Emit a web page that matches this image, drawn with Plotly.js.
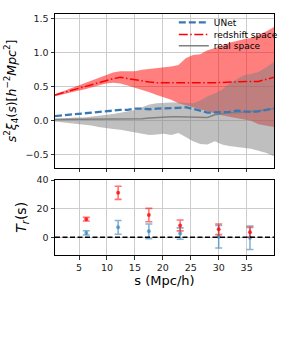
<!DOCTYPE html>
<html>
<head>
<meta charset="utf-8">
<script src="https://cdn.plot.ly/plotly-3.0.1.min.js"></script>
<style>html,body{margin:0;padding:0;background:#fff;}#chart{width:291px;height:349px;}</style>
</head>
<body>
<div id="chart"></div>
<script>
// separation grid (Mpc/h)
var s = [0.7, 2, 3.3, 4.6, 5.9, 7.2, 8.5, 9.8, 11.1, 12.4, 13.7, 15, 16.3, 17.6, 18.9, 20.2, 21.5, 22.8, 24.1, 25.4, 26.7, 28, 29.3, 30.6, 31.9, 33.2, 34.5, 35.8, 37.1, 38.4, 39.9];

// UNet
var unet = [0.07, 0.08, 0.09, 0.10, 0.11, 0.13, 0.14, 0.15, 0.16, 0.16, 0.16, 0.18, 0.18, 0.17, 0.18, 0.18, 0.19, 0.19, 0.20, 0.18, 0.15, 0.12, 0.12, 0.12, 0.13, 0.15, 0.14, 0.13, 0.14, 0.16, 0.18];

// redshift space mean and band
var zMean = [0.38, 0.41, 0.45, 0.48, 0.51, 0.54, 0.57, 0.60, 0.62, 0.64, 0.62, 0.60, 0.58, 0.57, 0.56, 0.56, 0.555, 0.555, 0.555, 0.55, 0.55, 0.555, 0.56, 0.565, 0.57, 0.58, 0.58, 0.58, 0.58, 0.61, 0.64];
var zUp   = [0.39, 0.43, 0.47, 0.51, 0.55, 0.59, 0.63, 0.67, 0.71, 0.73, 0.73, 0.73, 0.75, 0.76, 0.77, 0.78, 0.80, 0.82, 0.92, 0.97, 0.98, 1.04, 1.07, 1.10, 1.15, 1.18, 1.20, 1.22, 1.26, 1.31, 1.38];
var zLo   = [0.36, 0.39, 0.42, 0.44, 0.46, 0.49, 0.52, 0.55, 0.56, 0.55, 0.52, 0.49, 0.45, 0.42, 0.38, 0.35, 0.31, 0.26, 0.23, 0.20, 0.17, 0.13, 0.10, 0.08, 0.06, 0.04, 0.02, 0.00, -0.05, -0.07, -0.09];

// real space mean and band
var rMean = [0.02, 0.02, 0.03, 0.03, 0.03, 0.03, 0.03, 0.03, 0.02, 0.02, 0.02, 0.02, 0.03, 0.04, 0.05, 0.05, 0.06, 0.06, 0.06, 0.05, 0.05, 0.05, 0.09, 0.11, 0.12, 0.12, 0.13, 0.13, 0.14, 0.16, 0.18];
var rUp   = [0.03, 0.04, 0.04, 0.05, 0.05, 0.06, 0.07, 0.09, 0.10, 0.12, 0.14, 0.16, 0.20, 0.24, 0.26, 0.27, 0.27, 0.27, 0.26, 0.26, 0.30, 0.36, 0.40, 0.46, 0.55, 0.61, 0.67, 0.69, 0.72, 0.78, 0.87];
var rLo   = [-0.01, -0.02, -0.03, -0.04, -0.06, -0.07, -0.09, -0.11, -0.12, -0.13, -0.15, -0.16, -0.18, -0.21, -0.20, -0.19, -0.21, -0.18, -0.24, -0.30, -0.34, -0.35, -0.30, -0.35, -0.37, -0.38, -0.40, -0.41, -0.44, -0.47, -0.52];

// lower panel: T_r(s)
var sT = [6.3, 12.0, 17.5, 23.1, 30.0, 35.6];
var tRed = [12.6, 31.1, 15.5, 8.2, 5.5, 3.4];
var tRedErr = [1.3, 4.6, 4.7, 3.8, 3.7, 3.5];
var tBlue = [3.0, 6.9, 4.1, 2.5, 0.3, -0.4];
var tBlueErr = [1.5, 4.8, 5.1, 4.0, 7.9, 8.2];

var xTicks = [5, 10, 15, 20, 25, 30, 35];
var yTopTicks = [-0.5, 0, 0.5, 1.0, 1.5];
var yTopLabels = ['\u22120.5', '0.0', '0.5', '1.0', '1.5'];
var yBotTicks = [0, 20, 40];

var traces = [
  {x: s, y: zLo, xaxis: 'x2', yaxis: 'y2', mode: 'lines', line: {width: 0, color: 'rgba(0,0,0,0)'}, showlegend: false, hoverinfo: 'skip'},
  {x: s, y: zUp, xaxis: 'x2', yaxis: 'y2', mode: 'lines', line: {width: 0, color: 'rgba(0,0,0,0)'}, fill: 'tonexty', fillcolor: 'rgba(255,0,0,0.5)', showlegend: false, hoverinfo: 'skip'},
  {x: s, y: rLo, xaxis: 'x2', yaxis: 'y2', mode: 'lines', line: {width: 0, color: 'rgba(0,0,0,0)'}, showlegend: false, hoverinfo: 'skip'},
  {x: s, y: rUp, xaxis: 'x2', yaxis: 'y2', mode: 'lines', line: {width: 0, color: 'rgba(0,0,0,0)'}, fill: 'tonexty', fillcolor: 'rgba(128,128,128,0.5)', showlegend: false, hoverinfo: 'skip'},
  {x: s, y: rMean, xaxis: 'x2', yaxis: 'y2', mode: 'lines', name: 'real space', legend: 'legend3', line: {color: '#808080', width: 1.5}},
  {x: s, y: zMean, xaxis: 'x2', yaxis: 'y2', mode: 'lines', name: 'redshift space', legend: 'legend2', line: {color: '#ff0000', width: 1.5, dash: '9px,2.5px,1.5px,2.5px'}},
  {x: s, y: unet, xaxis: 'x2', yaxis: 'y2', mode: 'lines', name: 'UNet', legend: 'legend', line: {color: '#3a78b5', width: 2.3, dash: '7px,3px'}},
  {x: sT, y: tBlue, xaxis: 'x', yaxis: 'y', mode: 'markers', showlegend: false,
   marker: {color: 'rgba(31,119,180,0.6)', size: 4},
   error_y: {type: 'data', array: tBlueErr, visible: true, color: 'rgba(31,119,180,0.55)', thickness: 1.6, width: 3.5}},
  {x: sT, y: tRed, xaxis: 'x', yaxis: 'y', mode: 'markers', showlegend: false,
   marker: {color: 'rgba(255,0,0,0.75)', size: 4},
   error_y: {type: 'data', array: tRedErr, visible: true, color: 'rgba(255,0,0,0.55)', thickness: 1.6, width: 3.5}}
];

var axCommon = {
  showgrid: true, gridcolor: '#cccccc', gridwidth: 1,
  showline: true, linecolor: '#000', linewidth: 1, mirror: true,
  ticks: 'outside', ticklen: 3.5, tickwidth: 0.8, tickcolor: '#000',
  zeroline: false, tickfont: {family: 'DejaVu Sans', size: 9.5, color: '#222'}
};

function legendAt(yPx) {
  return {x: 0.5425, y: 1 - (yPx - 8) / 247, xanchor: 'left', yanchor: 'middle', bgcolor: 'rgba(0,0,0,0)',
          font: {family: 'DejaVu Sans', size: 9, color: '#000'}, tracegroupgap: 0, itemwidth: 30};
}

var layout = {
  width: 291, height: 349,
  margin: {l: 55, r: 8, t: 8, b: 94},
  paper_bgcolor: '#fff', plot_bgcolor: '#fff',
  font: {family: 'DejaVu Sans', color: '#000'},
  showlegend: true,
  legend: legendAt(16.5),
  legend2: legendAt(29),
  legend3: legendAt(40.5),
  xaxis: Object.assign({}, axCommon, {anchor: 'y', range: [0.7, 39.9], tickvals: xTicks,
          title: {text: 's (Mpc/h)', font: {family: 'DejaVu Sans', size: 13}, standoff: 3}}),
  yaxis: Object.assign({}, axCommon, {domain: [0, 0.313], range: [-12.5, 40.4], tickvals: yBotTicks,
          title: {text: '<i>T<sub>r</sub></i>(s)', font: {family: 'DejaVu Sans', size: 14}, standoff: 6}}),
  xaxis2: Object.assign({}, axCommon, {anchor: 'y2', range: [0.7, 39.9], tickvals: xTicks, showticklabels: false}),
  yaxis2: Object.assign({}, axCommon, {domain: [0.3615, 1], range: [-0.693, 1.572], tickvals: yTopTicks, ticktext: yTopLabels,
          title: {text: '<i>s</i><sup>2</sup><i>\u03BE</i><sub>4</sub>(<i>s</i>)[<i>h</i><sup>\u22122</sup><i>Mpc</i><sup>2</sup>]', font: {family: 'DejaVu Sans', size: 12.5}, standoff: 6}}),
  shapes: [{type: 'line', xref: 'x domain', yref: 'y', x0: 0, x1: 1, y0: 0, y1: 0,
            line: {color: '#000', width: 1.5, dash: '5px,2.5px'}}]
};

Plotly.newPlot('chart', traces, layout, {staticPlot: true, displayModeBar: false});
</script>
</body>
</html>
